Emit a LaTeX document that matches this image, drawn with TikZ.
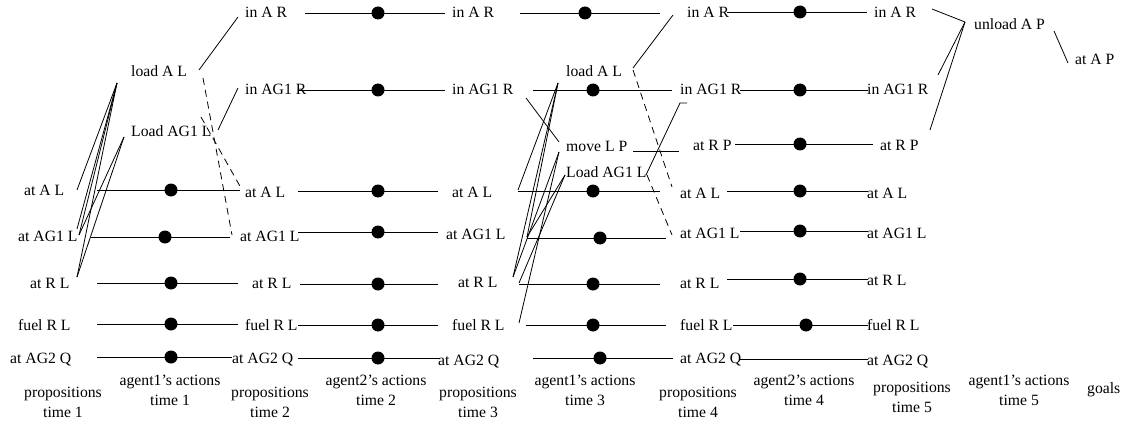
\documentclass[tikz,border=0pt]{standalone}
\usepackage{fontspec}
\setmainfont{Liberation Serif}
\begin{document}
\begin{tikzpicture}[x=1pt,y=-1pt,
  every node/.style={font=\fontsize{15.7}{19.5}\selectfont},
  lbl/.style={anchor=base west, inner sep=0pt},
  capt/.style={anchor=north, align=center, inner sep=0pt},
  dot/.style={circle, fill=black, draw=none, inner sep=0pt, minimum size=13pt},
  link/.style={line width=0.8pt},
  mutex/.style={line width=0.8pt, dash pattern=on 7pt off 5pt}]
\useasboundingbox (0,0) rectangle (1127,425);

% ---------- labels: propositions time 1
\node[lbl] (a1) at (24,195) {at A L};
\node[lbl] (a2) at (18,241) {at AG1 L};
\node[lbl] (a3) at (30,288) {at R L};
\node[lbl] (a4) at (18,330) {fuel R L};
\node[lbl] (a5) at (10,363) {at AG2 Q};
% agent1 actions time 1
\node[lbl] (b1) at (131,77) {load A L};
\node[lbl] (b2) at (131,136) {Load AG1 L};
% propositions time 2
\node[lbl] (c1) at (245,18) {in A R};
\node[lbl] (c2) at (245,95) {in AG1 R};
\node[lbl] (c3) at (245,197) {at A L};
\node[lbl] (c4) at (240,241) {at AG1 L};
\node[lbl] (c5) at (252,288) {at R L};
\node[lbl] (c6) at (245,330) {fuel R L};
\node[lbl] (c7) at (232,363) {at AG2 Q};
% propositions time 3
\node[lbl] (e1) at (452,18) {in A R};
\node[lbl] (e2) at (452,95) {in AG1 R};
\node[lbl] (e3) at (452,197) {at A L};
\node[lbl] (e4) at (446,239) {at AG1 L};
\node[lbl] (e5) at (458,287) {at R L};
\node[lbl] (e6) at (452,330) {fuel R L};
\node[lbl] (e7) at (438,365) {at AG2 Q};
% agent1 actions time 3
\node[lbl] (f1) at (566,77) {load A L};
\node[lbl] (f2) at (566,151) {move L P};
\node[lbl] (f3) at (566,177) {Load AG1 L};
% propositions time 4
\node[lbl] (g1) at (687,18) {in A R};
\node[lbl] (g2) at (680,95) {in AG1 R};
\node[lbl] (g3) at (693,150) {at R P};
\node[lbl] (g4) at (680,198) {at A L};
\node[lbl] (g5) at (680,238) {at AG1 L};
\node[lbl] (g6) at (680,288) {at R L};
\node[lbl] (g7) at (680,330) {fuel R L};
\node[lbl] (g8) at (680,363) {at AG2 Q};
% propositions time 5
\node[lbl] (i1) at (874,18) {in A R};
\node[lbl] (i2) at (867,95) {in AG1 R};
\node[lbl] (i3) at (880,150) {at R P};
\node[lbl] (i4) at (867,198) {at A L};
\node[lbl] (i5) at (867,238) {at AG1 L};
\node[lbl] (i6) at (867,285) {at R L};
\node[lbl] (i7) at (867,330) {fuel R L};
\node[lbl] (i8) at (867,365) {at AG2 Q};
% agent1 actions time 5 and goal
\node[lbl] (j1) at (974,30) {unload A P};
\node[lbl] (k1) at (1075,65) {at A P};

% ---------- captions
\node[capt] (t1) at (63,387) {propositions\\time 1};
\node[capt] (t2) at (170,375) {agent1's actions\\time 1};
\node[capt] (t3) at (270,387) {propositions\\time 2};
\node[capt] (t4) at (376,375) {agent2's actions\\time 2};
\node[capt] (t5) at (478,387) {propositions\\time 3};
\node[capt] (t6) at (585,375) {agent1's actions\\time 3};
\node[capt] (t7) at (698,387) {propositions\\time 4};
\node[capt] (t8) at (804,375) {agent2's actions\\time 4};
\node[capt] (t9) at (912,382) {propositions\\time 5};
\node[capt] (t10) at (1019,375) {agent1's actions\\time 5};
\node[lbl] (t11) at (1087,393) {goals};

% ---------- persistence lines (no-ops) with dots
\newcommand\pnoop[5]{%
  \coordinate (#1s) at (#2,#4); \coordinate (#1e) at (#3,#4);
  \draw[link] (#1s) -- (#1e);
  \node[dot] (#1d) at (#5,#4) {};}
% time 1
\pnoop{nb1}{97}{240}{190}{171}
\pnoop{nb2}{91}{230}{237}{165}
\pnoop{nb3}{97}{238}{283}{171}
\pnoop{nb4}{97}{238}{324}{171}
\pnoop{nb5}{97}{232}{357}{171}
% time 2
\pnoop{nd1}{305}{445}{13}{378}
\pnoop{nd2}{298}{445}{90}{378}
\pnoop{nd3}{298}{438}{191}{378}
\pnoop{nd4}{298}{438}{232}{378}
\pnoop{nd5}{300}{438}{284}{378}
\pnoop{nd6}{298}{438}{325}{378}
\pnoop{nd7}{298}{440}{358}{378}
% time 3
\pnoop{nf1}{520}{660}{13}{585}
\pnoop{nf2}{533}{672}{90}{593}
\pnoop{nf3}{518}{660}{191}{593}
\pnoop{nf4}{527}{666}{238}{600}
\pnoop{nf5}{519}{660}{284}{593}
\pnoop{nf6}{526}{666}{325}{593}
\pnoop{nf7}{533}{673}{358}{600}
% time 4
\pnoop{nh1}{727}{867}{12}{800}
\pnoop{nh2}{740}{868}{90}{800}
\pnoop{nh3}{735}{873}{144}{800}
\pnoop{nh4}{727}{868}{191}{800}
\pnoop{nh5}{740}{868}{231}{800}
\pnoop{nh6}{727}{868}{279}{800}
\pnoop{nh7}{733}{868}{325}{806}
\coordinate (nh8s) at (740,359); \coordinate (nh8e) at (868,359);
\draw[link] (nh8s) -- (nh8e);

% ---------- time 1 actions
\coordinate (pb1) at (117,83);
\coordinate (pb2) at (124,137);
\coordinate (qa1) at (77,190);
\coordinate (qa2a) at (77,229);
\coordinate (qa2) at (79,235);
\coordinate (qa3) at (77,277);
\draw[link] (pb1) -- (qa1);
\draw[link] (pb1) -- (qa2a);
\draw[link] (pb1) -- (qa2);
\draw[link] (pb1) -- (qa3);
\draw[link] (pb2) -- (qa2);
\draw[link] (pb2) -- (qa3);
\coordinate (xb1) at (199,70); \coordinate (yc1) at (238,17);
\coordinate (xb2) at (218,130); \coordinate (yc2) at (238,88);
\draw[link] (xb1) -- (yc1);
\draw[link] (xb2) -- (yc2);
\coordinate (mb1) at (203,78); \coordinate (mc4) at (232,235);
\coordinate (mb2) at (201,117); \coordinate (mc3) at (241,188);
\draw[mutex] (mb1) -- (mc4);
\draw[mutex] (mb2) -- (mc3);

% ---------- time 3 actions
\coordinate (pf1) at (558,83);
\coordinate (pf2) at (559,152);
\coordinate (pf3) at (565,175);
\coordinate (pf2b) at (559,142);
\coordinate (qe2) at (526,98);
\coordinate (qe3) at (518,190);
\coordinate (qe4) at (527,237);
\coordinate (qe5a) at (513,277);
\coordinate (qe5b) at (519,283);
\coordinate (qe6) at (519,323);
\draw[link] (pf1) -- (qe3);
\draw[link] (pf1) -- (qe4);
\draw[link] (pf1) -- (qe5a);
\draw[link] (qe2) -- (pf2b);
\draw[link] (pf2) -- (qe5a);
\draw[link] (pf2) -- (qe6);
\draw[link] (pf3) -- (qe4);
\draw[link] (pf3) -- (qe5b);
\coordinate (xf1) at (633,68); \coordinate (yg1) at (673,15);
\draw[link] (xf1) -- (yg1);
\coordinate (xf3) at (646,175); \coordinate (yg2) at (680,103); \coordinate (yg2b) at (687,103);
\draw[link] (xf3) -- (yg2) -- (yg2b);
\coordinate (xf2) at (633,151); \coordinate (yg3) at (679,151);
\draw[link] (xf2) -- (yg3);
\coordinate (mf1) at (633,70); \coordinate (mg4) at (672,187);
\coordinate (mf3) at (647,175); \coordinate (mg5) at (672,235);
\draw[mutex] (mf1) -- (mg4);
\draw[mutex] (mf3) -- (mg5);

% ---------- time 5 action
\coordinate (pj) at (965,22);
\coordinate (qi1) at (932,9);
\coordinate (qi2) at (938,75);
\coordinate (qi3) at (930,130);
\draw[link] (qi1) -- (pj);
\draw[link] (qi2) -- (pj);
\draw[link] (qi3) -- (pj);
\coordinate (xj) at (1054,31); \coordinate (yk) at (1068,63);
\draw[link] (xj) -- (yk);
\end{tikzpicture}
\end{document}
